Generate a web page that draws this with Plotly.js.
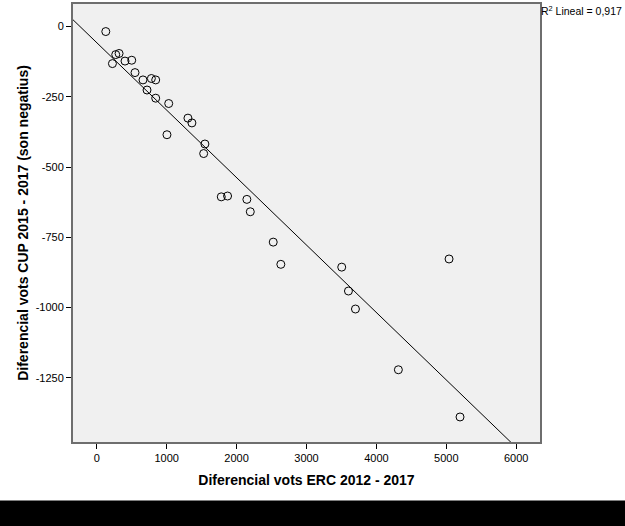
<!DOCTYPE html>
<html>
<head>
<meta charset="utf-8">
<script src="https://cdn.plot.ly/plotly-3.0.1.min.js"></script>
<style>
  html, body { margin: 0; padding: 0; background: #fff; }
  #chart { width: 625px; height: 526px; }
</style>
</head>
<body>
<div id="chart"></div>
<script>
// Diferencial de vots ERC (2012-2017) vs CUP (2015-2017), one point per municipality
const ercDiff = [129, 271, 319, 224, 404, 500, 547, 661, 781, 843,
                 719, 843, 1029, 1304, 1361, 1004, 1547, 1529, 1781, 1871,
                 2147, 2196, 2524, 2633, 3504, 3600, 3700, 5039, 4314, 5196];
const cupDiff = [-18, -100, -96, -132, -123, -120, -164, -190, -185, -190,
                 -226, -255, -274, -326, -343, -385, -418, -452, -606, -603,
                 -615, -659, -767, -846, -856, -941, -1005, -827, -1221, -1389];

const xTicks = [0, 1000, 2000, 3000, 4000, 5000, 6000];
const xTickText = ['0', '1000', '2000', '3000', '4000', '5000', '6000'];
const yTicks = [0, -250, -500, -750, -1000, -1250];
const yTickText = ['0', '-250', '-500', '-750', '-1000', '-1250'];

const r2Label = 'R<sup>2</sup> Lineal = 0,917';

// least squares fit of the points
function linearFit(xs, ys) {
  const n = xs.length;
  const mx = xs.reduce((a, b) => a + b, 0) / n;
  const my = ys.reduce((a, b) => a + b, 0) / n;
  let sxy = 0, sxx = 0;
  for (let i = 0; i < n; i++) {
    sxy += (xs[i] - mx) * (ys[i] - my);
    sxx += (xs[i] - mx) * (xs[i] - mx);
  }
  const slope = sxy / sxx;
  return { slope: slope, intercept: my - slope * mx };
}

const xRange = [-340, 6340];
const yRange = [-1478, 80];
const fit = linearFit(ercDiff, cupDiff);

const font = 'Liberation Sans, Arial, sans-serif';

const points = {
  x: ercDiff,
  y: cupDiff,
  type: 'scatter',
  mode: 'markers',
  marker: { symbol: 'circle-open', size: 8, color: '#000', line: { width: 1, color: '#000' } },
  hoverinfo: 'x+y',
  showlegend: false,
};

const fitLine = {
  x: xRange,
  y: xRange.map(v => fit.intercept + fit.slope * v),
  type: 'scatter',
  mode: 'lines',
  line: { color: '#000', width: 1 },
  hoverinfo: 'skip',
  showlegend: false,
};

const axisBase = {
  showgrid: false,
  zeroline: false,
  showline: true,
  mirror: true,
  linecolor: '#6e6e6e',
  linewidth: 2,
  ticks: 'outside',
  ticklen: 5,
  tickwidth: 1,
  tickcolor: '#000',
  tickfont: { family: font, size: 11, color: '#000' },
};

const layout = {
  width: 625,
  height: 526,
  paper_bgcolor: '#fff',
  plot_bgcolor: '#f0f0f0',
  margin: { l: 73, r: 85, t: 4, b: 84 },
  xaxis: Object.assign({}, axisBase, {
    range: xRange,
    tickmode: 'array',
    tickvals: xTicks,
    ticktext: xTickText,
    title: { text: 'Diferencial vots ERC 2012 - 2017', font: { family: font, size: 14, color: '#000', weight: 'bold' }, standoff: 12 },
  }),
  yaxis: Object.assign({}, axisBase, {
    range: yRange,
    tickmode: 'array',
    tickvals: yTicks,
    ticktext: yTickText,
    title: { text: 'Diferencial vots CUP 2015 - 2017 (son negatius)', font: { family: font, size: 14, color: '#000', weight: 'bold' }, standoff: 4 },
  }),
  annotations: [{
    text: r2Label,
    xref: 'paper', yref: 'paper',
    x: 1, y: 1,
    xanchor: 'left', yanchor: 'top',
    xshift: -1, yshift: 2,
    showarrow: false,
    font: { family: font, size: 10.5, color: '#000' },
  }],
  shapes: [{
    type: 'rect',
    xref: 'paper', yref: 'paper',
    x0: -0.3, x1: 1.3,
    y0: -0.3, y1: -0.1333,
    fillcolor: '#000',
    line: { width: 0 },
    layer: 'above',
  }],
};

Plotly.newPlot('chart', [fitLine, points], layout, { displayModeBar: false, staticPlot: true });
</script>
</body>
</html>
